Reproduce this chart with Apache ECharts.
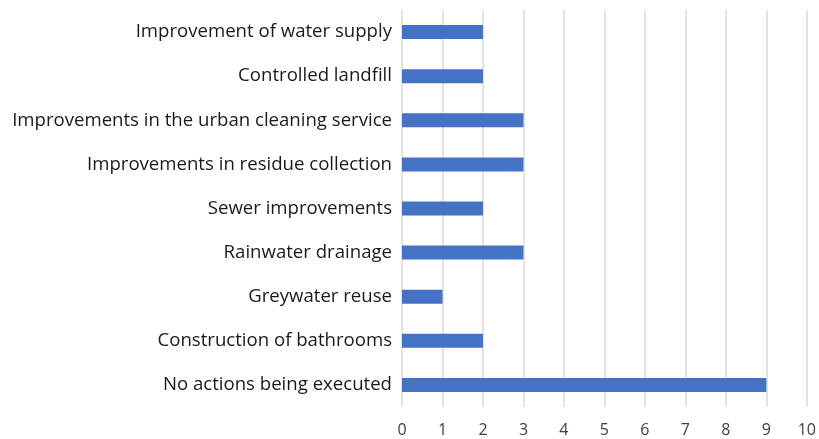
<!DOCTYPE html>
<html>
<head>
<meta charset="utf-8">
<script src="https://cdn.jsdelivr.net/npm/echarts@6/dist/echarts.min.js"></script>
<style>
  html, body { margin: 0; padding: 0; background: #fff; }
  #chart { width: 819px; height: 439px; }
</style>
</head>
<body>
<div id="chart"></div>
<script>
  // categories listed bottom to top (ECharts category y axis starts at the bottom)
  const categories = [
    'No actions being executed',
    'Construction of bathrooms',
    'Greywater reuse',
    'Rainwater drainage',
    'Sewer improvements',
    'Improvements in residue collection',
    'Improvements in the urban cleaning service',
    'Controlled landfill',
    'Improvement of water supply'
  ];
  const counts = [9, 2, 1, 3, 2, 3, 3, 2, 2];
  const xTicks = [0, 10, 1]; // min, max, interval

  const chart = echarts.init(document.getElementById('chart'));
  chart.setOption({
    animation: false,
    grid: {
      left: 402,
      right: 11,
      top: 10,
      bottom: 32
    },
    xAxis: {
      type: 'value',
      min: xTicks[0],
      max: xTicks[1],
      interval: xTicks[2],
      axisLine: { show: false },
      axisTick: { show: false },
      axisLabel: {
        color: '#404040',
        fontSize: 16,
        fontFamily: 'Open Sans',
        margin: 15
      },
      splitLine: {
        show: true,
        lineStyle: { color: '#d9d9d9', width: 1.5 }
      }
    },
    yAxis: {
      type: 'category',
      data: categories,
      axisLine: { show: false },
      axisTick: { show: false },
      axisLabel: {
        color: '#1a1a1a',
        fontSize: 18.6,
        fontFamily: 'Open Sans',
        margin: 10
      }
    },
    series: [
      {
        type: 'bar',
        data: counts,
        barWidth: 14,
        itemStyle: { color: '#4472c4' }
      }
    ]
  });
</script>
</body>
</html>
